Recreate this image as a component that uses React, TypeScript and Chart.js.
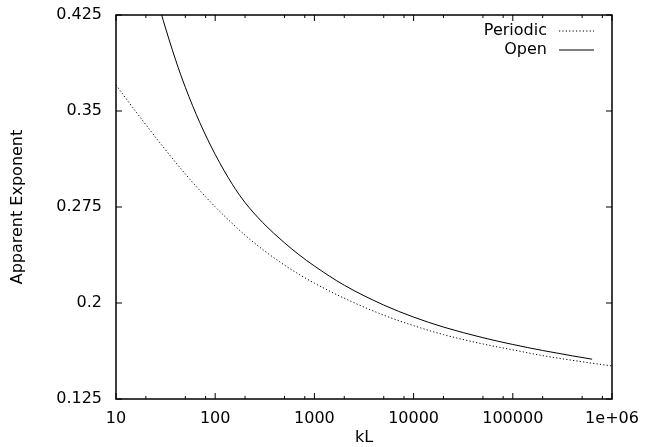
import React, { useEffect, useRef } from 'react';
import { Chart, registerables } from 'chart.js';

Chart.register(...registerables);

// ---- data ----
const xTickValues = [10, 100, 1000, 10000, 100000, 1000000];
const xTickLabels = ['10', '100', '1000', '10000', '100000', '1e+06'];
const xMinorMultipliers = [2, 5, 8];
const yTickValues = [0.125, 0.2, 0.275, 0.35, 0.425];
const yTickLabels = ['0.125', '0.2', '0.275', '0.35', '0.425'];

const periodicKL = [10, 15, 20, 30, 50, 70, 100, 200, 300, 500, 700, 1000, 2000, 5000, 10000, 20000, 50000, 100000, 200000, 500000, 1000000];
const periodicValues = [0.3703, 0.352, 0.3393, 0.3218, 0.3008, 0.2879, 0.2751, 0.253, 0.2419, 0.2296, 0.2224, 0.2155, 0.2037, 0.1905, 0.1823, 0.1753, 0.168, 0.1634, 0.1589, 0.1541, 0.1508];

const openKL = [25, 30, 40, 50, 70, 100, 150, 200, 300, 500, 700, 1000, 2000, 5000, 10000, 20000, 50000, 100000, 200000, 400000, 630000];
const openValues = [0.4418, 0.4205, 0.3896, 0.3685, 0.3409, 0.3161, 0.2923, 0.2785, 0.263, 0.247, 0.2377, 0.2289, 0.2139, 0.1984, 0.189, 0.1812, 0.1729, 0.1676, 0.1629, 0.1587, 0.1561];

const seriesNames = ['Periodic', 'Open'];

const FONT = '"DejaVu Sans", sans-serif';
const FS = 16;
const W = 654;
const H = 447;

const framePlugin = {
  id: 'gnuplotFrame',
  afterDatasetsDraw(chart: any) {
    const { ctx, chartArea, scales } = chart;
    const { left, right, top, bottom } = chartArea;
    const x = scales.x;
    const y = scales.y;
    ctx.save();
    ctx.strokeStyle = '#000';
    ctx.lineWidth = 1.5;
    ctx.strokeRect(left, top, right - left, bottom - top);
    ctx.lineWidth = 1;
    const major = 6;
    const minor = 3;
    ctx.beginPath();
    for (const v of xTickValues) {
      const px = x.getPixelForValue(v);
      ctx.moveTo(px, bottom); ctx.lineTo(px, bottom - major);
      ctx.moveTo(px, top); ctx.lineTo(px, top + major);
      if (v < 1000000) {
        for (const m of xMinorMultipliers) {
          const mp = x.getPixelForValue(v * m);
          ctx.moveTo(mp, bottom); ctx.lineTo(mp, bottom - minor);
          ctx.moveTo(mp, top); ctx.lineTo(mp, top + minor);
        }
      }
    }
    for (const v of yTickValues) {
      const py = y.getPixelForValue(v);
      ctx.moveTo(left, py); ctx.lineTo(left + major, py);
      ctx.moveTo(right, py); ctx.lineTo(right - major, py);
    }
    ctx.stroke();

    // legend
    ctx.font = `${FS}px ${FONT}`;
    ctx.fillStyle = '#000';
    ctx.textAlign = 'right';
    ctx.textBaseline = 'middle';
    const textRight = 547;
    const lineStart = 559;
    const lineEnd = 594;
    const rows = [31, 50];
    seriesNames.forEach((name, i) => {
      ctx.fillText(name, textRight, rows[i]);
      ctx.beginPath();
      ctx.setLineDash(i === 0 ? [1.2, 2.2] : []);
      ctx.moveTo(lineStart, rows[i]);
      ctx.lineTo(lineEnd, rows[i]);
      ctx.stroke();
    });
    ctx.setLineDash([]);
    ctx.restore();
  },
};

export default function App() {
  const ref = useRef<HTMLCanvasElement | null>(null);

  useEffect(() => {
    if (!ref.current) return;
    const chart = new Chart(ref.current, {
      type: 'line',
      data: {
        datasets: [
          {
            label: seriesNames[0],
            data: periodicKL.map((k, i) => ({ x: k, y: periodicValues[i] })),
            borderColor: '#000',
            borderWidth: 1,
            borderDash: [1.2, 2.2],
            pointRadius: 0,
            cubicInterpolationMode: 'monotone',
            fill: false,
          },
          {
            label: seriesNames[1],
            data: openKL.map((k, i) => ({ x: k, y: openValues[i] })),
            borderColor: '#000',
            borderWidth: 1,
            pointRadius: 0,
            cubicInterpolationMode: 'monotone',
            fill: false,
          },
        ],
      },
      options: {
        animation: false,
        responsive: false,
        devicePixelRatio: 1,
        layout: { padding: { left: 0, right: 42, top: 15, bottom: 0 } },
        plugins: { legend: { display: false }, tooltip: { enabled: false } },
        scales: {
          x: {
            type: 'logarithmic',
            min: 10,
            max: 1000000,
            grid: { display: false, drawTicks: false },
            border: { display: false },
            afterBuildTicks: (s: any) => {
              s.ticks = xTickValues.map((v) => ({ value: v }));
            },
            afterFit: (s: any) => {
              s.height = 48;
              s.paddingLeft = 0;
              s.paddingRight = 0;
            },
            ticks: {
              autoSkip: false,
              maxRotation: 0,
              padding: 10,
              color: '#000',
              font: { family: FONT, size: FS },
              callback: (_v: any, i: number) => xTickLabels[i],
            },
            title: {
              display: true,
              text: 'kL',
              color: '#000',
              font: { family: FONT, size: FS },
              padding: { top: 0, bottom: 0 },
            },
          },
          y: {
            type: 'linear',
            min: 0.125,
            max: 0.425,
            grid: { display: false, drawTicks: false },
            border: { display: false },
            afterBuildTicks: (s: any) => {
              s.ticks = yTickValues.map((v) => ({ value: v }));
            },
            afterFit: (s: any) => {
              s.width = 116;
              s.paddingTop = 0;
              s.paddingBottom = 0;
            },
            ticks: {
              autoSkip: false,
              padding: 14,
              color: '#000',
              font: { family: FONT, size: FS },
              callback: (_v: any, i: number) => yTickLabels[i],
            },
            title: {
              display: true,
              text: 'Apparent Exponent',
              color: '#000',
              font: { family: FONT, size: FS },
              padding: { top: 8, bottom: 0 },
            },
          },
        },
      },
      plugins: [framePlugin],
    } as any);
    return () => chart.destroy();
  }, []);

  return (
    <div style={{ position: 'absolute', left: 0, top: 0, width: W, height: H, background: '#fff' }}>
      <canvas ref={ref} width={W} height={H} style={{ width: W, height: H, display: 'block' }} />
    </div>
  );
}
